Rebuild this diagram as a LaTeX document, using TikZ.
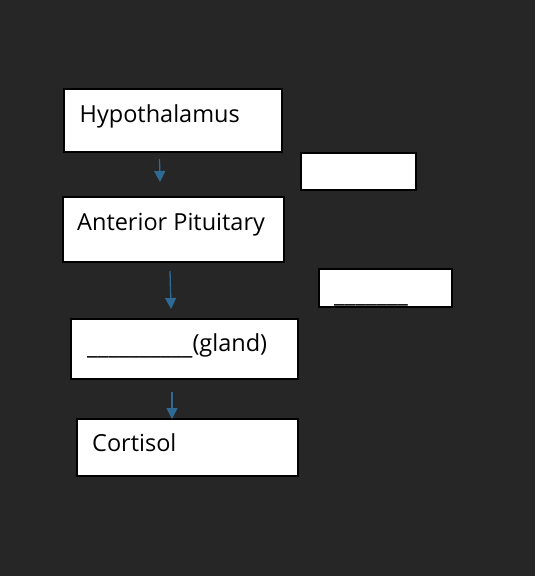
\documentclass[tikz,border=0pt]{standalone}
\usepackage{xcolor}
\usepackage{fontspec}
\setmainfont{Open Sans}
\usepackage{tikz}
\usetikzlibrary{arrows.meta, positioning}

\definecolor{bgdark}{HTML}{262626}
\definecolor{flowblue}{HTML}{2E6A94}

\tikzset{
    box/.style={draw=black, fill=white, line width=2pt, inner sep=0pt, anchor=north west},
    lbl/.style={anchor=base west, inner sep=0pt, font=\fontsize{23.5}{28}\selectfont},
    flow/.style={draw=flowblue, line width=1.3pt, -{Triangle[width=11pt,length=11pt]}}
}

\begin{document}
\begin{tikzpicture}[x=1pt, y=-1pt]
        \fill[bgdark] (0,0) rectangle (535,576);

        \node[box, minimum width=218pt, minimum height=63pt] (hypo) at (63,88) {};
        \node[box, minimum width=115pt, minimum height=37pt] (blankA) at (300,152) {};
        \node[box, minimum width=221pt, minimum height=65pt] (pit) at (62,196) {};
        \node[box, minimum width=133pt, minimum height=38pt] (blankB) at (318,268) {};
        \node[box, minimum width=227pt, minimum height=60pt] (gland) at (70,318) {};
        \node[box, minimum width=221pt, minimum height=57pt] (cort) at (76,418) {};

        \node[lbl] (hypotext) at (79.5,122.3) {Hypothalamus};
        \node[lbl] (pittext) at (77,230) {Anterior Pituitary};
        \node[lbl] (blankBtext) at (334,302) {\_\_\_\_\_\_\_};
        \node[lbl] (glandtext) at (87,351) {\raisebox{-3pt}{\_\_\_\_\_\_\_\_\_\_}(gland)};
        \node[lbl] (corttext) at (92,451.7) {Cortisol};

        \coordinate (a1s) at (159.5,159);
        \coordinate (a1e) at (160,182);
        \coordinate (a2s) at (170,271);
        \coordinate (a2e) at (171,309);
        \coordinate (a3s) at (172,392);
        \coordinate (a3e) at (172,419);

        \draw[flow] (a1s) -- (a1e);
        \draw[flow] (a2s) -- (a2e);
        \draw[flow] (a3s) -- (a3e);
    \end{tikzpicture}
\end{document}
